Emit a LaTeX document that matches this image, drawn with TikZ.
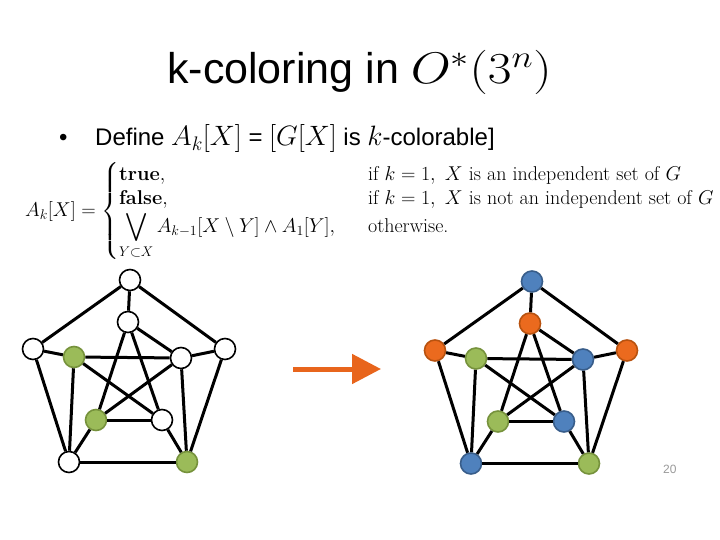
\documentclass[tikz,border=0pt]{standalone}
\usepackage{fix-cm}
\usepackage{amsmath,amssymb}
\usepackage[no-math]{fontspec}
\newfontfamily\arial{Liberation Sans}
\usetikzlibrary{arrows.meta}
\definecolor{gfill}{HTML}{9BBB59}
\definecolor{gline}{HTML}{76923C}
\definecolor{bfill}{HTML}{4F81BD}
\definecolor{bline}{HTML}{385D8A}
\definecolor{ofill}{HTML}{EB6A1E}
\definecolor{oline}{HTML}{B8520F}
\definecolor{arrowcol}{HTML}{E8651C}
\newcommand{\bm}[1]{{\fontsize{28}{30}\selectfont$#1$}}
\tikzset{
  vtx/.style={circle, minimum size=21pt, inner sep=0pt, line width=1.6pt},
  wn/.style={vtx, draw=black, fill=white},
  gn/.style={vtx, draw=gline, fill=gfill},
  bn/.style={vtx, draw=bline, fill=bfill},
  on/.style={vtx, draw=oline, fill=ofill},
  edge/.style={line width=3pt, black},
  txt/.style={inner sep=0pt, anchor=base west}
}
\begin{document}
\begin{tikzpicture}[x=1pt,y=-1pt]
\useasboundingbox (0,0) rectangle (720,540);

% title
\node[txt] (title) at (167,84) {\arial\fontsize{43}{50}\selectfont k-coloring in \scalebox{1.2}[1.03]{$O^*(3^n)$}};

% bullet line
\node[txt] (bullet) at (59,146) {\arial\fontsize{24}{28}\selectfont \textbullet};
\node[txt] (define) at (95,146) {\arial\fontsize{24}{28}\selectfont Define \bm{A_k[X]} = \bm{[G[X]} is \bm{k}-colorable]};

% formula
\node[inner sep=0pt, anchor=west] (formula) at (25,211) {\fontsize{20}{24}\selectfont
$A_k[X] = \left\{\begin{array}{@{}l@{\hspace{33pt}}l@{}}
\textbf{true}, & \text{if } k=1,\ X \text{ is an independent set of } G\\[0pt]
\textbf{false}, & \text{if } k=1,\ X \text{ is not an independent set of } G\\[0pt]
\displaystyle\bigvee_{Y\subset X} A_{k-1}[X\setminus Y]\wedge A_1[Y], & \text{otherwise.}
\end{array}\right.$};

% left graph
\node[wn] (aT)   at (130,280) {};
\node[wn] (aIT)  at (128,322) {};
\node[wn] (aL)   at (33,349) {};
\node[gn] (aIL)  at (74,357) {};
\node[wn] (aIR)  at (181,358) {};
\node[wn] (aR)   at (225,349) {};
\node[gn] (aIBL) at (96,420) {};
\node[wn] (aIBR) at (162,420) {};
\node[wn] (aBL)  at (69,462) {};
\node[gn] (aBR)  at (187,462) {};

% right graph
\begin{scope}[shift={(402,1.5)}]
\node[bn] (bT)   at (130,280) {};
\node[on] (bIT)  at (128,322) {};
\node[on] (bL)   at (33,349) {};
\node[gn] (bIL)  at (74,357) {};
\node[bn] (bIR)  at (181,358) {};
\node[on] (bR)   at (225,349) {};
\node[gn] (bIBL) at (96,420) {};
\node[bn] (bIBR) at (162,420) {};
\node[bn] (bBL)  at (69,462) {};
\node[gn] (bBR)  at (187,462) {};
\end{scope}

\foreach \p in {a,b}{
  \foreach \u/\v in {T/L, T/R, L/BL, R/BR, BL/BR, T/IT, L/IL, R/IR, IL/BL, IBL/BL, IR/BR, IBR/BR, IT/IR, IT/IBL, IT/IBR, IL/IR, IL/IBR, IR/IBL, IBL/IBR}
    \draw[edge] (\p\u) -- (\p\v);
}

% arrow
\coordinate (arS) at (293,369);
\coordinate (arE) at (381,369);
\draw[line width=5pt, arrowcol, -{Triangle[length=29pt,width=29pt]}] (arS) -- (arE);

% page number
\node[txt, text=gray!80] (pnum) at (663,473) {\arial\fontsize{12}{14}\selectfont 20};
\end{tikzpicture}
\end{document}
